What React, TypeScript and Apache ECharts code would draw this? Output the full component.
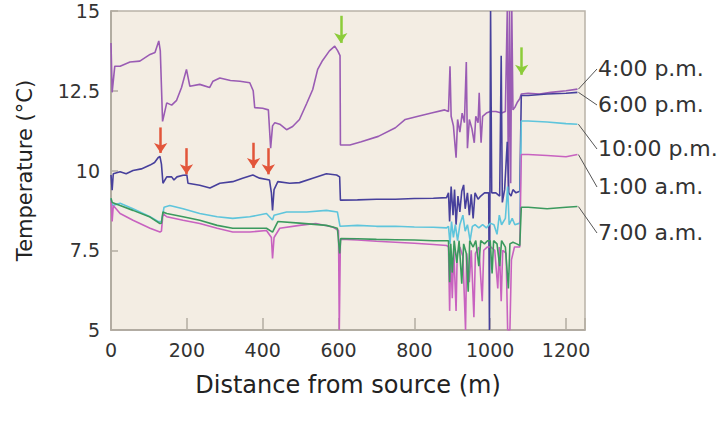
import React, { useEffect, useRef } from "react";
import * as echarts from "echarts";

const seriesNames = ["4:00 p.m.", "6:00 p.m.", "10:00 p.m.", "1:00 a.m.", "7:00 a.m."];
const seriesColors = ["#9a5cb4", "#47409c", "#5ec5dc", "#c862c0", "#3b9a5e"];
const labelY = [68, 104, 148, 186, 232];

const pm4: number[][] = [
  [0, 14.0], [3, 12.45], [10, 13.27], [24, 13.27], [50, 13.4], [76, 13.43], [103, 13.64], [116, 13.7],
  [126, 14.06], [130, 13.75], [136, 11.54], [147, 12.12], [160, 12.05], [173, 12.2], [186, 12.6],
  [199, 13.17], [208, 12.64], [234, 12.7], [260, 12.6], [269, 12.8], [287, 12.9], [315, 12.82],
  [340, 12.8], [366, 12.75], [375, 12.5], [379, 11.97], [400, 11.95], [415, 11.9], [418, 11.3],
  [421, 10.7], [426, 11.4], [432, 11.5], [445, 11.45], [463, 11.28], [479, 11.38], [497, 11.6],
  [516, 12.1], [532, 12.54], [545, 13.17], [558, 13.45], [576, 13.75], [590, 13.9], [598, 13.75],
  [604, 13.6], [605, 10.8], [630, 10.8], [660, 10.9], [705, 11.07], [750, 11.34], [776, 11.6],
  [810, 11.7], [845, 11.8], [880, 11.9], [890, 11.85], [894, 13.27], [897, 11.7], [903, 11.4],
  [910, 10.4], [914, 11.6], [920, 11.2], [926, 11.8], [932, 11.5], [937, 13.4], [940, 10.7],
  [945, 11.6], [952, 11.3], [958, 10.87], [962, 11.7], [968, 11.5], [971, 12.44], [974, 11.4],
  [976, 10.87], [980, 11.7], [990, 11.8], [1000, 11.85], [1015, 11.85], [1030, 11.8], [1040, 11.85],
  [1045, 15.0], [1048, 9.4], [1051, 15.0], [1054, 9.6], [1057, 15.0], [1060, 11.9], [1066, 12.0],
  [1072, 12.15], [1078, 12.25], [1082, 12.4], [1100, 12.42], [1130, 12.4], [1160, 12.45],
  [1200, 12.5], [1230, 12.55],
];

const pm6: number[][] = [
  [0, 9.86], [3, 9.38], [6, 9.9], [24, 9.96], [40, 9.9], [58, 10.0], [80, 10.05], [103, 10.17],
  [115, 10.25], [124, 10.4], [129, 10.44], [133, 10.2], [137, 9.6], [147, 9.8], [160, 9.8],
  [166, 9.7], [174, 9.8], [190, 9.85], [200, 9.86], [203, 9.6], [234, 9.54], [261, 9.45],
  [287, 9.6], [321, 9.65], [347, 9.76], [374, 9.86], [392, 9.76], [418, 9.7], [423, 9.3],
  [426, 8.75], [430, 9.4], [440, 9.65], [471, 9.6], [497, 9.62], [532, 9.76], [568, 9.9],
  [595, 9.86], [603, 9.8], [605, 9.07], [650, 9.08], [700, 9.1], [750, 9.1], [800, 9.12],
  [850, 9.13], [885, 9.15], [890, 9.3], [893, 8.4], [897, 9.5], [902, 8.6], [906, 9.4],
  [910, 8.3], [915, 9.2], [920, 8.7], [925, 9.35], [930, 9.55], [934, 8.8], [940, 9.3],
  [945, 8.6], [950, 9.25], [955, 8.5], [960, 9.3], [968, 9.1], [975, 9.2], [985, 9.3],
  [996, 9.3], [998, 5.0], [1001, 15.0], [1004, 9.3], [1015, 9.3], [1025, 9.2], [1029, 13.6],
  [1032, 9.0], [1038, 9.4], [1045, 10.9], [1049, 9.3], [1055, 9.2], [1060, 9.4], [1068, 9.3],
  [1078, 9.35], [1082, 12.35], [1100, 12.35], [1150, 12.4], [1200, 12.42], [1230, 12.45],
];

const pm10: number[][] = [
  [0, 9.13], [3, 8.9], [24, 8.97], [58, 8.8], [103, 8.55], [124, 8.4], [133, 8.4], [140, 8.85],
  [155, 8.9], [190, 8.8], [234, 8.65], [280, 8.55], [321, 8.5], [366, 8.55], [410, 8.65],
  [426, 8.45], [430, 8.6], [463, 8.7], [516, 8.7], [568, 8.75], [597, 8.7], [604, 8.25],
  [650, 8.28], [700, 8.25], [750, 8.25], [800, 8.23], [850, 8.22], [885, 8.2], [890, 8.25],
  [894, 7.7], [898, 8.4], [903, 7.9], [908, 8.3], [914, 7.8], [920, 8.3], [928, 8.6], [934, 8.1],
  [940, 8.3], [947, 7.8], [953, 8.25], [960, 8.3], [970, 8.2], [980, 8.3], [990, 8.2],
  [1000, 8.35], [1010, 8.3], [1018, 8.0], [1024, 8.6], [1030, 8.3], [1040, 8.5], [1046, 9.5],
  [1050, 8.3], [1058, 8.5], [1065, 8.3], [1078, 8.35], [1082, 11.55], [1100, 11.55],
  [1150, 11.52], [1200, 11.47], [1230, 11.45],
];

const am1: number[][] = [
  [0, 9.07], [3, 8.4], [6, 8.9], [24, 8.65], [58, 8.44], [103, 8.19], [129, 8.07], [133, 8.1],
  [137, 8.65], [147, 8.55], [190, 8.44], [234, 8.34], [280, 8.19], [321, 8.07], [366, 8.07],
  [410, 8.12], [423, 7.9], [426, 7.24], [430, 7.9], [445, 8.19], [497, 8.28], [540, 8.34],
  [585, 8.23], [600, 8.12], [602, 5.0], [605, 7.85], [650, 7.82], [700, 7.78], [750, 7.75],
  [800, 7.72], [850, 7.68], [885, 7.65], [890, 7.6], [893, 5.6], [896, 7.4], [900, 6.0],
  [904, 7.5], [910, 5.6], [913, 7.4], [920, 7.6], [928, 7.3], [935, 5.0], [938, 7.4], [945, 6.5],
  [950, 7.5], [957, 5.4], [961, 7.4], [970, 7.6], [979, 5.9], [983, 7.5], [992, 7.6], [1002, 7.6],
  [1012, 7.5], [1020, 6.3], [1024, 7.6], [1029, 5.9], [1033, 7.5], [1042, 7.4], [1046, 5.0],
  [1052, 5.0], [1056, 7.2], [1064, 7.6], [1078, 7.6], [1082, 10.5], [1100, 10.5], [1150, 10.47],
  [1200, 10.43], [1230, 10.5],
];

const am7: number[][] = [
  [0, 9.13], [3, 9.0], [24, 8.9], [58, 8.75], [103, 8.54], [129, 8.34], [133, 8.35], [137, 8.7],
  [147, 8.65], [190, 8.55], [234, 8.44], [280, 8.28], [321, 8.19], [366, 8.19], [410, 8.19],
  [426, 8.07], [440, 8.4], [497, 8.35], [568, 8.28], [597, 8.19], [603, 7.4], [606, 7.87],
  [650, 7.86], [700, 7.84], [750, 7.83], [800, 7.82], [850, 7.8], [885, 7.8], [890, 7.8],
  [893, 6.5], [896, 7.7], [900, 6.8], [905, 7.8], [912, 7.1], [918, 7.8], [925, 6.45], [930, 7.7],
  [937, 7.4], [942, 6.2], [946, 7.8], [955, 7.6], [962, 7.8], [970, 7.0], [975, 7.8], [985, 7.7],
  [993, 7.8], [1000, 7.8], [1005, 6.77], [1009, 7.8], [1018, 7.7], [1025, 7.0], [1030, 7.8],
  [1040, 7.6], [1048, 6.3], [1052, 7.7], [1060, 7.75], [1070, 7.7], [1078, 7.65], [1082, 8.85],
  [1100, 8.85], [1150, 8.8], [1200, 8.85], [1230, 8.87],
];

const seriesData = [pm4, pm6, pm10, am1, am7];

// arrows: [x, yStart, yEnd]
const redArrows: number[][] = [
  [131, 11.35, 10.55], [199, 10.7, 9.88], [376, 10.87, 10.08], [415, 10.7, 9.88],
];
const greenArrows: number[][] = [
  [606, 14.85, 14.0], [1083, 13.86, 13.0],
];

const FONT = "'DejaVu Sans', 'Liberation Sans', sans-serif";

export default function App() {
  const ref = useRef<HTMLDivElement>(null);
  useEffect(() => {
    if (!ref.current) return;
    const chart = echarts.init(ref.current, null, { renderer: "svg" });
    const series: any[] = seriesData.map((d, i) => ({
      name: seriesNames[i],
      type: "line",
      data: d,
      showSymbol: false,
      symbol: "none",
      lineStyle: { color: seriesColors[i], width: 1.6 },
      itemStyle: { color: seriesColors[i] },
      z: 2 + i,
    }));
    const mkArrows = (arr: number[][], color: string) => ({
      silent: true,
      symbol: ["none", "arrow"],
      symbolSize: 10,
      label: { show: false },
      lineStyle: { color, width: 2.5, type: "solid" },
      data: arr.map((a) => [{ coord: [a[0], a[1]] }, { coord: [a[0], a[2]] }]),
    });
    series.push({
      name: "redArrows",
      type: "line",
      data: [],
      z: 10,
      markLine: mkArrows(redArrows, "#e2553a"),
    });
    series.push({
      name: "greenArrows",
      type: "line",
      data: [],
      z: 10,
      markLine: mkArrows(greenArrows, "#8ccc3a"),
    });

    chart.setOption({
      animation: false,
      backgroundColor: "#ffffff",
      grid: {
        left: 111,
        right: 135,
        top: 11,
        bottom: 102,
        show: true,
        backgroundColor: "#f3ede3",
        borderColor: "#b9b3a8",
        borderWidth: 1.5,
      },
      xAxis: {
        type: "value",
        min: 0,
        max: 1250,
        interval: 200,
        name: "Distance from source (m)",
        nameLocation: "middle",
        nameGap: 43,
        nameTextStyle: { fontFamily: FONT, fontSize: 24, color: "#222" },
        axisLine: { show: true, lineStyle: { color: "#aaa49a", width: 1.5 } },
        axisTick: { show: true, inside: true, length: 12, lineStyle: { color: "#b3ada2", width: 1.5 } },
        axisLabel: {
          fontFamily: FONT,
          fontSize: 19,
          color: "#333",
          margin: 10,
          formatter: (v: number) => (v % 200 === 0 ? String(v) : ""),
        },
        splitLine: { show: false },
      },
      yAxis: {
        type: "value",
        min: 5,
        max: 15,
        interval: 2.5,
        name: "Temperature (°C)",
        nameLocation: "middle",
        nameGap: 76,
        nameTextStyle: { fontFamily: FONT, fontSize: 21, color: "#222" },
        axisLine: { show: true, lineStyle: { color: "#aaa49a", width: 1.5 } },
        axisTick: { show: true, inside: true, length: 7, lineStyle: { color: "#b3ada2", width: 1.5 } },
        axisLabel: { fontFamily: FONT, fontSize: 19, color: "#333", margin: 11 },
        splitLine: { show: false },
      },
      series,
    });

    const graphics: any[] = [];
    seriesData.forEach((d, i) => {
      const last = d[d.length - 1];
      const p = chart.convertToPixel({ xAxisIndex: 0, yAxisIndex: 0 }, last) as number[];
      graphics.push({
        type: "line",
        shape: { x1: p[0] + 1, y1: p[1], x2: 597, y2: labelY[i] + 1 },
        style: { stroke: "#555", lineWidth: 1 },
        z: 20,
      });
      graphics.push({
        type: "text",
        x: 598,
        y: labelY[i],
        style: {
          text: seriesNames[i],
          fontFamily: FONT,
          fontSize: 22,
          fill: "#333",
          verticalAlign: "middle",
          align: "left",
        },
        z: 20,
      });
    });
    chart.setOption({ graphic: graphics });

    return () => chart.dispose();
  }, []);
  return (
    <div
      ref={ref}
      style={{ position: "fixed", left: 0, top: 0, width: 720, height: 432 }}
    />
  );
}
